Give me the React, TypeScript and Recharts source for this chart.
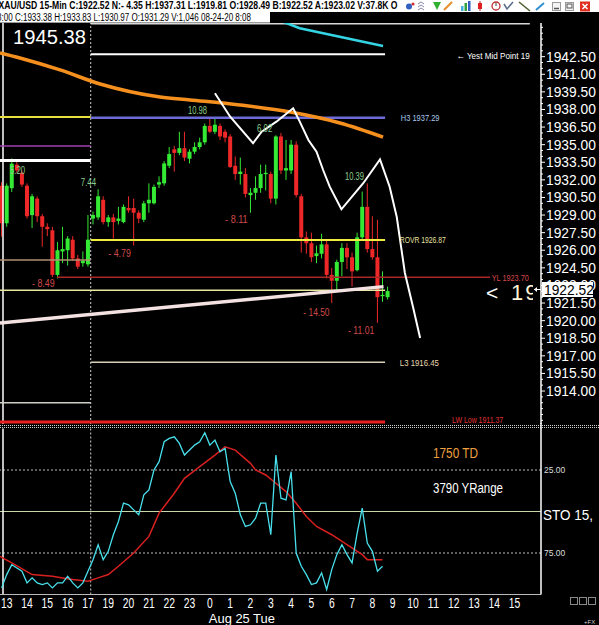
import React from 'react';
import { ComposedChart, Bar, Line, Scatter, XAxis, YAxis, ReferenceLine } from 'recharts';

const FONT = '"Liberation Sans", Arial, Helvetica, sans-serif';
const GREEN = '#34ea34';
const RED = '#ee2828';

// x axis: 15-minute slots, slot 0 = first "13" hour bar
const X_MIN = -1.32;
const X_MAX = 105.2;
const P_MIN = 1911.19;
const P_MAX = 1945.37;
const DAY_BREAK = 16.54;
const LEFT_EDGE = -0.73;

const slots = [-1, 0, 1, 2, 3, 4, 5, 6, 7, 8, 9, 10, 11, 12, 13, 14, 15, 16, 17, 18, 19, 20, 21, 22, 23, 24, 25, 26, 27, 28, 29, 30, 31, 32, 33, 34, 35, 36, 37, 38, 39, 40, 41, 42, 43, 44, 45, 46, 47, 48, 49, 50, 51, 52, 53, 54, 55, 56, 57, 58, 59, 60, 61, 62, 63, 64, 65, 66, 67, 68, 69, 70, 71, 72, 73, 74, 75];
const opens = [1931.5, 1928.3, 1931.29, 1933.3, 1932.6, 1931.5, 1929.0, 1930.4, 1928.9, 1928.0, 1927.7, 1923.9, 1925.9, 1926.0, 1926.9, 1925.3, 1924.9, 1924.8, 1928.7, 1928.8, 1930.3, 1928.4, 1928.8, 1928.5, 1928.4, 1929.6, 1929.6, 1929.2, 1928.6, 1930.0, 1930.0, 1931.6, 1931.7, 1933.2, 1934.6, 1934.3, 1934.7, 1933.8, 1934.4, 1934.8, 1935.2, 1936.6, 1936.1, 1936.6, 1936.1, 1935.7, 1933.2, 1932.5, 1932.5, 1930.7, 1930.9, 1931.3, 1932.5, 1932.5, 1930.4, 1935.7, 1932.8, 1932.8, 1935.0, 1930.6, 1927.1, 1926.6, 1925.5, 1925.7, 1926.5, 1923.9, 1923.4, 1925.0, 1926.2, 1925.4, 1924.3, 1927.1, 1929.7, 1926.1, 1925.4, 1922.1, 1922.0];
const highs = [1931.8, 1931.7, 1933.83, 1933.6, 1932.8, 1931.7, 1930.8, 1930.6, 1929.1, 1928.3, 1928.0, 1926.7, 1928.0, 1927.2, 1927.2, 1925.6, 1925.9, 1929.0, 1929.3, 1931.2, 1930.6, 1929.0, 1929.1, 1929.7, 1929.9, 1930.6, 1930.4, 1929.4, 1930.2, 1931.7, 1931.6, 1932.3, 1933.6, 1934.8, 1934.9, 1936.1, 1936.1, 1934.6, 1935.2, 1935.6, 1936.8, 1937.31, 1937.2, 1936.8, 1936.3, 1935.9, 1934.0, 1933.9, 1933.0, 1931.3, 1932.3, 1933.3, 1933.3, 1932.7, 1935.8, 1936.0, 1935.4, 1935.4, 1935.3, 1930.8, 1927.6, 1927.5, 1926.4, 1927.4, 1926.8, 1924.5, 1925.2, 1926.6, 1926.6, 1925.8, 1927.5, 1931.0, 1931.7, 1928.9, 1928.6, 1924.2, 1922.9];
const lows = [1927.15, 1928.0, 1930.97, 1932.6, 1931.4, 1928.7, 1927.9, 1928.4, 1926.3, 1927.2, 1923.7, 1923.6, 1924.9, 1924.7, 1925.1, 1924.4, 1924.6, 1924.6, 1928.2, 1928.6, 1928.2, 1928.0, 1927.0, 1928.2, 1928.3, 1929.2, 1926.4, 1928.3, 1928.4, 1929.2, 1929.9, 1931.3, 1931.5, 1933.0, 1932.7, 1934.1, 1933.6, 1933.4, 1934.2, 1934.6, 1935.0, 1936.0, 1935.9, 1935.4, 1935.2, 1933.0, 1932.0, 1931.6, 1930.5, 1929.2, 1930.3, 1930.9, 1931.1, 1930.0, 1929.9, 1932.5, 1932.0, 1932.5, 1930.5, 1925.8, 1925.7, 1925.0, 1924.9, 1925.3, 1923.6, 1921.5, 1922.6, 1923.8, 1924.4, 1922.9, 1924.2, 1926.9, 1925.8, 1925.2, 1919.81, 1921.6, 1921.8];
const closes = [1928.3, 1931.5, 1933.38, 1932.8, 1931.6, 1928.9, 1930.6, 1928.9, 1928.0, 1927.8, 1923.9, 1926.0, 1926.1, 1927.0, 1925.3, 1924.6, 1925.1, 1926.9, 1929.0, 1930.6, 1928.4, 1928.8, 1928.4, 1928.7, 1929.7, 1929.4, 1929.2, 1928.7, 1930.0, 1930.3, 1931.4, 1931.8, 1933.4, 1934.2, 1934.3, 1934.7, 1933.9, 1934.4, 1934.8, 1935.2, 1936.6, 1936.1, 1936.7, 1935.7, 1935.6, 1933.1, 1932.5, 1932.7, 1930.8, 1930.9, 1931.3, 1932.5, 1932.6, 1930.4, 1935.7, 1932.8, 1933.0, 1935.0, 1930.7, 1927.1, 1926.6, 1925.4, 1925.74, 1926.5, 1923.9, 1923.4, 1925.0, 1926.2, 1925.4, 1924.2, 1927.1, 1929.7, 1926.1, 1925.4, 1922.0, 1922.2, 1922.52];

// overlay studies on price panel
const maSlots = [-1.32, 2.6, 10.5, 18.4, 30.2, 36.1, 45.9, 55.8, 65.6, 74.1];
const maPrices = [1942.82, 1942.39, 1941.37, 1940.17, 1939.06, 1938.81, 1938.38, 1937.78, 1936.85, 1935.65];
const cyanSlots = [50, 57.7, 74.1];
const cyanPrices = [1946.2, 1944.92, 1943.41];
const projSlots = [41.0, 44.0, 48.5, 50.2, 53.1, 56.4, 57.7, 59.4, 61.0, 62.3, 63.6, 65.9, 70.2, 73.5, 75.4, 76.8, 78.4, 80.0, 81.4];
const projPrices = [1939.38, 1937.38, 1935.12, 1936.11, 1936.96, 1938.1, 1936.96, 1935.4, 1934.4, 1932.84, 1931.42, 1929.49, 1931.71, 1933.75, 1931.42, 1928.83, 1924.06, 1921.16, 1918.52];
const trendSlots = [-1.32, 74.2];
const trendPrices = [1919.8, 1922.9];

// horizontal levels
const levelNames = ['topEdge', 'yestMid', 'h3', 'rovr', 'yl', 'l3', 'lwLow', 'prevYellow', 'prevPurple', 'prevWhite', 'prevTan', 'prevGray', 'paleYellow'];
const levelPrices = [1945.3, 1942.7, 1937.29, 1926.87, 1923.7, 1916.45, 1911.37, 1937.36, 1934.89, 1933.65, 1925.17, 1913.0, 1922.6];
const levelFrom = [16.54, 16.54, 16.54, 16.54, 9.9, 16.54, -1.32, -1.32, -1.32, -1.32, -1.32, -1.32, -1.32];
const levelTo = [103.0, 74.5, 74.5, 74.5, 95.2, 74.5, 74.5, 16.54, 16.54, 16.54, 16.54, 16.54, 74.5];
const LEVEL_STYLE: Record<string, { color: string; w: number }> = {
  topEdge: { color: '#d8d8d8', w: 1.5 },
  yestMid: { color: '#ffffff', w: 2 },
  h3: { color: '#6c6cd8', w: 2.5 },
  rovr: { color: '#f0ec40', w: 2 },
  yl: { color: '#a82828', w: 1.5 },
  l3: { color: '#d8d0b8', w: 1.5 },
  lwLow: { color: '#e82020', w: 3 },
  prevYellow: { color: '#e8e040', w: 2 },
  prevPurple: { color: '#a040b0', w: 1.5 },
  prevWhite: { color: '#ffffff', w: 3 },
  prevTan: { color: '#b09070', w: 1.5 },
  prevGray: { color: '#d0d0c8', w: 1.5 },
  paleYellow: { color: '#e8e8a0', w: 1.5 },
};

// text annotations
const gainLabels = ['10.98', '6.02', '10.39', '7.44', '5.20'];
const gainSlots = [35.7, 49.3, 66.6, 14.6, 0.65];
const gainPrices = [1937.96, 1936.42, 1932.3, 1931.8, 1932.84];
const lossLabels = ['- 4.79', '- 8.49', '- 8.11', '- 14.50', '- 11.01'];
const lossSlots = [20.0, 5.0, 43.0, 58.4, 67.2];
const lossPrices = [1925.75, 1923.2, 1928.66, 1920.74, 1919.2];
const levelLabels = ['H3 1937.29', 'ROVR 1926.87', 'YL 1923.70', 'L3 1916.45', 'LW Low 1911.37', '\u2190 Yest Mid Point 19'];
const levelLabelKinds = ['h3', 'rovr', 'yl', 'l3', 'lw', 'yest'];
const levelLabelSlots = [77.6, 77.4, 95.5, 77.4, 87.7, 88.6];
const levelLabelPrices = [1937.29, 1926.87, 1923.7, 1916.45, 1911.6, 1942.6];

const ANN_STYLE: Record<string, { color: string; size: number; cw: number }> = {
  gain: { color: '#8ccf8c', size: 10, cw: 3.8 },
  loss: { color: '#d04a4a', size: 10, cw: 3.75 },
  h3: { color: '#a8c8e8', size: 9.5, cw: 3.87 },
  rovr: { color: '#e8e0a0', size: 9.5, cw: 3.83 },
  yl: { color: '#d84848', size: 9.5, cw: 3.7 },
  l3: { color: '#e8d8b0', size: 9.5, cw: 3.9 },
  lw: { color: '#e03030', size: 9.5, cw: 3.65 },
  yest: { color: '#ffffff', size: 9.5, cw: 3.85 },
};

// stochastic
const kSlots = slots.slice(0, 76);
const kValues = [96, 88, 82, 84, 86, 93, 90, 93, 94, 93, 96, 93, 93, 89, 93, 96, 93, 86, 79, 70, 79, 74, 64, 56, 45, 46, 49, 52, 40, 37, 25, 20, 8, 6, 5, 9, 16, 13, 10, 8, 2.5, 10, 7, 14, 12, 32, 39, 52, 59, 58, 54, 45, 45, 64, 16, 42, 43, 26, 75, 83, 88, 94, 93, 87, 97, 85, 76, 70, 76, 81, 63, 48, 69, 74, 86, 83];
const dSlots = [-1.32, 1, 5, 9, 11, 13, 16, 18, 20, 22, 25, 28, 30, 33, 35, 38, 41, 43, 45, 48, 49, 51, 53, 55, 57, 59, 61, 64, 67, 70, 71, 74];
const dValues = [77, 81, 88, 89, 90, 91, 92, 90, 88, 83, 75, 65, 51, 39, 30, 23, 16, 11, 13, 21, 25, 28, 33, 38, 45, 53, 59, 64, 70, 76, 79, 79];

const hourTicks = [0, 4, 8, 12, 16, 20, 24, 28, 32, 36, 40, 44, 48, 52, 56, 60, 64, 68, 72, 76, 80, 84, 88, 92, 96, 100];
const hourLabels = ['13', '14', '15', '16', '17', '19', '20', '21', '22', '23', '0', '1', '2', '3', '4', '5', '6', '7', '8', '9', '10', '11', '12', '13', '14', '15'];
const DAY_TICK = 40;
const DAY_LABEL = 'Aug 25 Tue';

const majorPriceTicks = [1942.5, 1941, 1939.5, 1938, 1936.5, 1935, 1933.5, 1932, 1930.5, 1929, 1927.5, 1926, 1924.5, 1923, 1921.5, 1920, 1918.5, 1917, 1915.5, 1914];
const priceTicks = Array.from({ length: 68 }, (_, i) => 1945 - i * 0.5);
const stoTicks = [25, 75];

const LAST_CLOSE = '1922.52';

const candles = slots.map((s, i) => ({ s, o: opens[i], h: highs[i], l: lows[i], c: closes[i] }));
const maData = maSlots.map((s, i) => ({ s, p: maPrices[i] }));
const cyanData = cyanSlots.map((s, i) => ({ s, p: cyanPrices[i] }));
const projData = projSlots.map((s, i) => ({ s, p: projPrices[i] }));
const trendData = trendSlots.map((s, i) => ({ s, p: trendPrices[i] }));
const annData = [
  ...gainLabels.map((t, i) => ({ s: gainSlots[i], p: gainPrices[i], text: t, kind: 'gain' })),
  ...lossLabels.map((t, i) => ({ s: lossSlots[i], p: lossPrices[i], text: t, kind: 'loss' })),
  ...levelLabels.map((t, i) => ({ s: levelLabelSlots[i], p: levelLabelPrices[i], text: t, kind: levelLabelKinds[i] })),
];
const kData = kSlots.map((s, i) => ({ s, k: kValues[i] }));
const dData = dSlots.map((s, i) => ({ s, v: dValues[i] }));

function Candle(props: any) {
  const { x, y, width, height, payload } = props;
  if (!payload || !isFinite(x) || !isFinite(y) || !isFinite(height)) return null;
  const top = Math.min(y, y + height);
  const span = Math.abs(height);
  const range = payload.h - payload.l;
  const k = range > 0 ? span / range : 0;
  const py = (v: number) => top + (payload.h - v) * k;
  const up = payload.c >= payload.o;
  const col = up ? GREEN : RED;
  const cx = x + width / 2;
  const bt = py(Math.max(payload.o, payload.c));
  const bb = py(Math.min(payload.o, payload.c));
  return (
    <g>
      <line x1={cx} x2={cx} y1={top} y2={top + span} stroke={col} strokeWidth={1} />
      <rect x={cx - 2} y={bt} width={4} height={Math.max(1.3, bb - bt)} fill={col} />
    </g>
  );
}

function AnnText(props: any) {
  const { cx, cy, payload } = props;
  if (!payload || !isFinite(cx) || !isFinite(cy)) return null;
  const st = ANN_STYLE[payload.kind];
  return (
    <text x={cx} y={cy} dy={st.size * 0.36} fill={st.color} fontSize={st.size} fontFamily={FONT}
      textLength={payload.text.length * st.cw} lengthAdjust="spacingAndGlyphs">
      {payload.text}
    </text>
  );
}

function PriceTick(props: any) {
  const { x, y, payload } = props;
  const v = payload.value;
  const major = majorPriceTicks.some((m) => Math.abs(m - v) < 1e-6);
  return (
    <g>
      <line x1={x} x2={x + (major ? 4 : 2)} y1={y} y2={y} stroke="#ffffff" strokeWidth={1} />
      {major && (
        <text x={x + 5} y={y} dy={4.9} fill="#ffffff" fontSize={13.8} fontFamily={FONT}>
          {v.toFixed(2)}
        </text>
      )}
    </g>
  );
}

function StoTick(props: any) {
  const { x, y, payload } = props;
  return (
    <text x={x + 3} y={y} dy={3} fill="#dddddd" fontSize={8.5} fontFamily={FONT}>
      {Number(payload.value).toFixed(2)}
    </text>
  );
}

function HourTick(props: any) {
  const { x, y, payload } = props;
  const i = hourTicks.indexOf(payload.value);
  if (i < 0) return null;
  const lab = hourLabels[i];
  return (
    <g>
      <text x={x} y={y + 13.5} textAnchor="middle" fill="#ffffff" fontSize={14.5} fontFamily={FONT}
        textLength={lab.length * 5.75} lengthAdjust="spacingAndGlyphs">
        {lab}
      </text>
      {payload.value === DAY_TICK && (
        <text x={x - 1} y={y + 28.4} fill="#ffffff" fontSize={13} fontFamily={FONT}
          textLength={66} lengthAdjust="spacingAndGlyphs">
          {DAY_LABEL}
        </text>
      )}
    </g>
  );
}

function Header() {
  return (
    <svg width={599} height={23} style={{ position: 'absolute', left: 0, top: 0 }}>
      <rect x={0} y={0} width={599} height={12} fill="#ffffff" />
      <rect x={0} y={12} width={270} height={11} fill="#ffffff" />
      <line x1={0} x2={270} y1={22.5} y2={22.5} stroke="#9a9a9a" />
      <text x={-1.5} y={8.6} fontSize={10} fontWeight="bold" fontFamily={FONT} fill="#000"
        textLength={399} lengthAdjust="spacingAndGlyphs">
        XAU/USD 15-Min C:1922.52 N:- 4.35 H:1937.31 L:1919.81 O:1928.49 B:1922.52 A:1923.02 V:37.8K O
      </text>
      <text x={-3} y={20.6} fontSize={10} fontFamily={FONT} fill="#000"
        textLength={254} lengthAdjust="spacingAndGlyphs">
        8:00 C:1933.38 H:1933.83 L:1930.97 O:1931.29 V:1,046 08-24-20 8:08
      </text>
      {/* toolbar icons */}
      <circle cx={409} cy={6.5} r={3} fill="#3060c0" />
      <circle cx={413} cy={4} r={1.6} fill="#d03030" />
      <path d="M418 4 l3 -2 l3 2 M418 7 l3 -2 l3 2 M418 10 l3 -2 l3 2" stroke="#8888aa" fill="none" strokeWidth={1} />
      <path d="M433 2 h8 l-4 8 z" fill="#30b030" />
      <line x1={444} y1={10} x2={452} y2={2} stroke="#e89030" strokeWidth={2.2} />
      <rect x={461} y={6} width={2.5} height={5} fill="#40b0e0" />
      <rect x={464.5} y={3} width={2.5} height={8} fill="#30a040" />
      <rect x={468} y={1} width={2.5} height={10} fill="#3060c0" />
      <line x1={480} y1={1} x2={480} y2={11} stroke="#c02020" />
      <rect x={478} y={3} width={4} height={6} fill="#e02020" />
      <circle cx={496} cy={6} r={4} fill="none" stroke="#c03030" strokeWidth={1.3} />
      <line x1={496} y1={6} x2={496} y2={3} stroke="#444" />
      <path d="M504 4 l3 5 l6 -7" stroke="#607090" fill="none" strokeWidth={1.6} />
      <line x1={519} y1={2} x2={530} y2={11} stroke="#506030" strokeWidth={1.6} />
      <line x1={536} y1={10} x2={544} y2={3} stroke="#3090d0" strokeWidth={2} />
      <rect x={552.5} y={2.5} width={8} height={8} fill="#f4f4f4" stroke="#9a9a9a" />
      <line x1={554} y1={8.5} x2={559} y2={8.5} stroke="#555" strokeWidth={1.5} />
      <rect x={565.5} y={2.5} width={8} height={8} fill="#f4f4f4" stroke="#9a9a9a" />
      <rect x={567} y={4} width={5} height={4} fill="none" stroke="#555" />
      <rect x={580} y={1.5} width={10} height={10} fill="#e03020" />
      <path d="M582.5 4 l5 5 M587.5 4 l-5 5" stroke="#fff" strokeWidth={1.6} />
    </svg>
  );
}

function Overlay() {
  return (
    <svg width={599} height={625} style={{ position: 'absolute', left: 0, top: 0, pointerEvents: 'none' }}>
      <defs>
        <clipPath id="bigClip">
          <rect x={480} y={270} width={53} height={40} />
        </clipPath>
      </defs>
      <text x={13} y={44} fill="#ffffff" fontSize={20} fontFamily={FONT} textLength={73} lengthAdjust="spacingAndGlyphs">1945.38</text>
      <g clipPath="url(#bigClip)">
        <text x={486} y={300} fill="#ffffff" fontSize={21} fontFamily={FONT}>{'<'}</text>
        <text x={511} y={300} fill="#fff4d8" fontSize={22} fontFamily={FONT} letterSpacing={2}>{'19'}</text>
      </g>
      {/* last price flag */}
      <line x1={534} x2={541} y1={289.5} y2={289.5} stroke="#ffffff" />
      <path d="M534 289.5 l3 -2.5 v5 z" fill="#ffffff" />
      <rect x={542} y={282} width={51} height={15} fill="#ffffff" />
      <text x={544} y={294.5} fill="#000000" fontSize={13.8} fontFamily={FONT}>{LAST_CLOSE}</text>
      {/* panel separator */}
      <line x1={0} x2={599} y1={425.5} y2={425.5} stroke="#d0d0d0" strokeDasharray="1 1" />
      <line x1={0} x2={599} y1={427.5} y2={427.5} stroke="#d0d0d0" strokeDasharray="1 1" />
      <line x1={541} x2={541} y1={423} y2={429} stroke="#ffffff" strokeWidth={1.5} />
      <text x={433} y={458} fill="#f0a040" fontSize={14} fontFamily={FONT} textLength={45} lengthAdjust="spacingAndGlyphs">1750 TD</text>
      <text x={433} y={493} fill="#ffffff" fontSize={14} fontFamily={FONT} textLength={70} lengthAdjust="spacingAndGlyphs">3790 YRange</text>
      <text x={543} y={520} fill="#ffffff" fontSize={14} fontFamily={FONT} textLength={50} lengthAdjust="spacingAndGlyphs">STO  15,</text>
      {/* bottom right controls */}
      <rect x={570.5} y={597.5} width={7} height={7} fill="none" stroke="#8a8a8a" />
      <rect x={579.5} y={597.5} width={7} height={7} fill="none" stroke="#8a8a8a" />
      <rect x={588.5} y={597.5} width={7} height={7} fill="none" stroke="#8a8a8a" />
      <text x={584} y={624} fill="#cccccc" fontSize={6} fontFamily={FONT}>+FX</text>
    </svg>
  );
}

export default function App() {
  return (
    <div style={{ position: 'relative', width: 599, height: 625, background: '#000000', overflow: 'hidden', fontFamily: FONT }}>
      <style>{'body{margin:0;background:#000;}'}</style>
      <div style={{ position: 'absolute', left: 0, top: 0 }}>
        <ComposedChart width={599} height={425} data={candles} margin={{ top: 23, right: 0, bottom: 1, left: 0 }}>
          <XAxis type="number" dataKey="s" domain={[X_MIN, X_MAX]} allowDataOverflow hide />
          <YAxis type="number" orientation="right" domain={[P_MIN, P_MAX]} allowDataOverflow width={58}
            ticks={priceTicks} interval={0} tick={<PriceTick />} tickLine={false} tickSize={0} tickMargin={0}
            axisLine={{ stroke: '#ffffff', strokeWidth: 1.5 }} />
          <ReferenceLine x={LEFT_EDGE} stroke="#ffffff" strokeWidth={1.5} />
          <ReferenceLine x={DAY_BREAK} stroke="#cccccc" strokeDasharray="2 2" />
          {levelNames.map((n, i) => (
            <Line key={n} data={[{ s: levelFrom[i], p: levelPrices[i] }, { s: levelTo[i], p: levelPrices[i] }]}
              dataKey="p" stroke={LEVEL_STYLE[n].color} strokeWidth={LEVEL_STYLE[n].w}
              dot={false} activeDot={false} isAnimationActive={false} />
          ))}
          <Line data={trendData} dataKey="p" stroke="#f4e2e2" strokeWidth={3.5} dot={false} activeDot={false} isAnimationActive={false} />
          <Scatter data={annData} dataKey="p" shape={AnnText} isAnimationActive={false} />
          <Bar dataKey={(d: any) => [d.l, d.h]} barSize={4} shape={Candle} isAnimationActive={false} />
          <Line data={maData} dataKey="p" type="monotone" stroke="#f5901e" strokeWidth={3.5} dot={false} activeDot={false} isAnimationActive={false} />
          <Line data={cyanData} dataKey="p" stroke="#34d4e4" strokeWidth={2.5} dot={false} activeDot={false} isAnimationActive={false} />
          <Line data={projData} dataKey="p" stroke="#ffffff" strokeWidth={2} dot={false} activeDot={false} isAnimationActive={false} />
        </ComposedChart>
      </div>
      <div style={{ position: 'absolute', left: 0, top: 420 }}>
        <ComposedChart width={599} height={205} data={kData} margin={{ top: 8.5, right: 0, bottom: 0, left: 0 }}>
          <XAxis type="number" dataKey="s" domain={[X_MIN, X_MAX]} allowDataOverflow ticks={hourTicks} interval={0}
            height={30.5} tick={<HourTick />} tickLine={false} tickSize={0} tickMargin={0} axisLine={{ stroke: '#bbbbbb' }} />
          <YAxis type="number" orientation="right" domain={[0, 100]} reversed ticks={stoTicks} interval={0} width={58}
            tick={<StoTick />} tickLine={false} tickSize={0} tickMargin={0} axisLine={{ stroke: '#ffffff', strokeWidth: 1.5 }} />
          <ReferenceLine y={25} stroke="#bbbbbb" strokeDasharray="2 2" />
          <ReferenceLine y={75} stroke="#bbbbbb" strokeDasharray="2 2" />
          <ReferenceLine y={50} stroke="#c8d8a8" />
          <ReferenceLine x={LEFT_EDGE} stroke="#ffffff" strokeWidth={1.5} />
          <ReferenceLine x={DAY_BREAK} stroke="#cccccc" strokeDasharray="2 2" />
          <Line data={dData} dataKey="v" stroke="#d82020" strokeWidth={1.5} dot={false} activeDot={false} isAnimationActive={false} />
          <Line dataKey="k" stroke="#48e0ec" strokeWidth={1.3} dot={false} activeDot={false} isAnimationActive={false} />
        </ComposedChart>
      </div>
      <Header />
      <Overlay />
    </div>
  );
}
